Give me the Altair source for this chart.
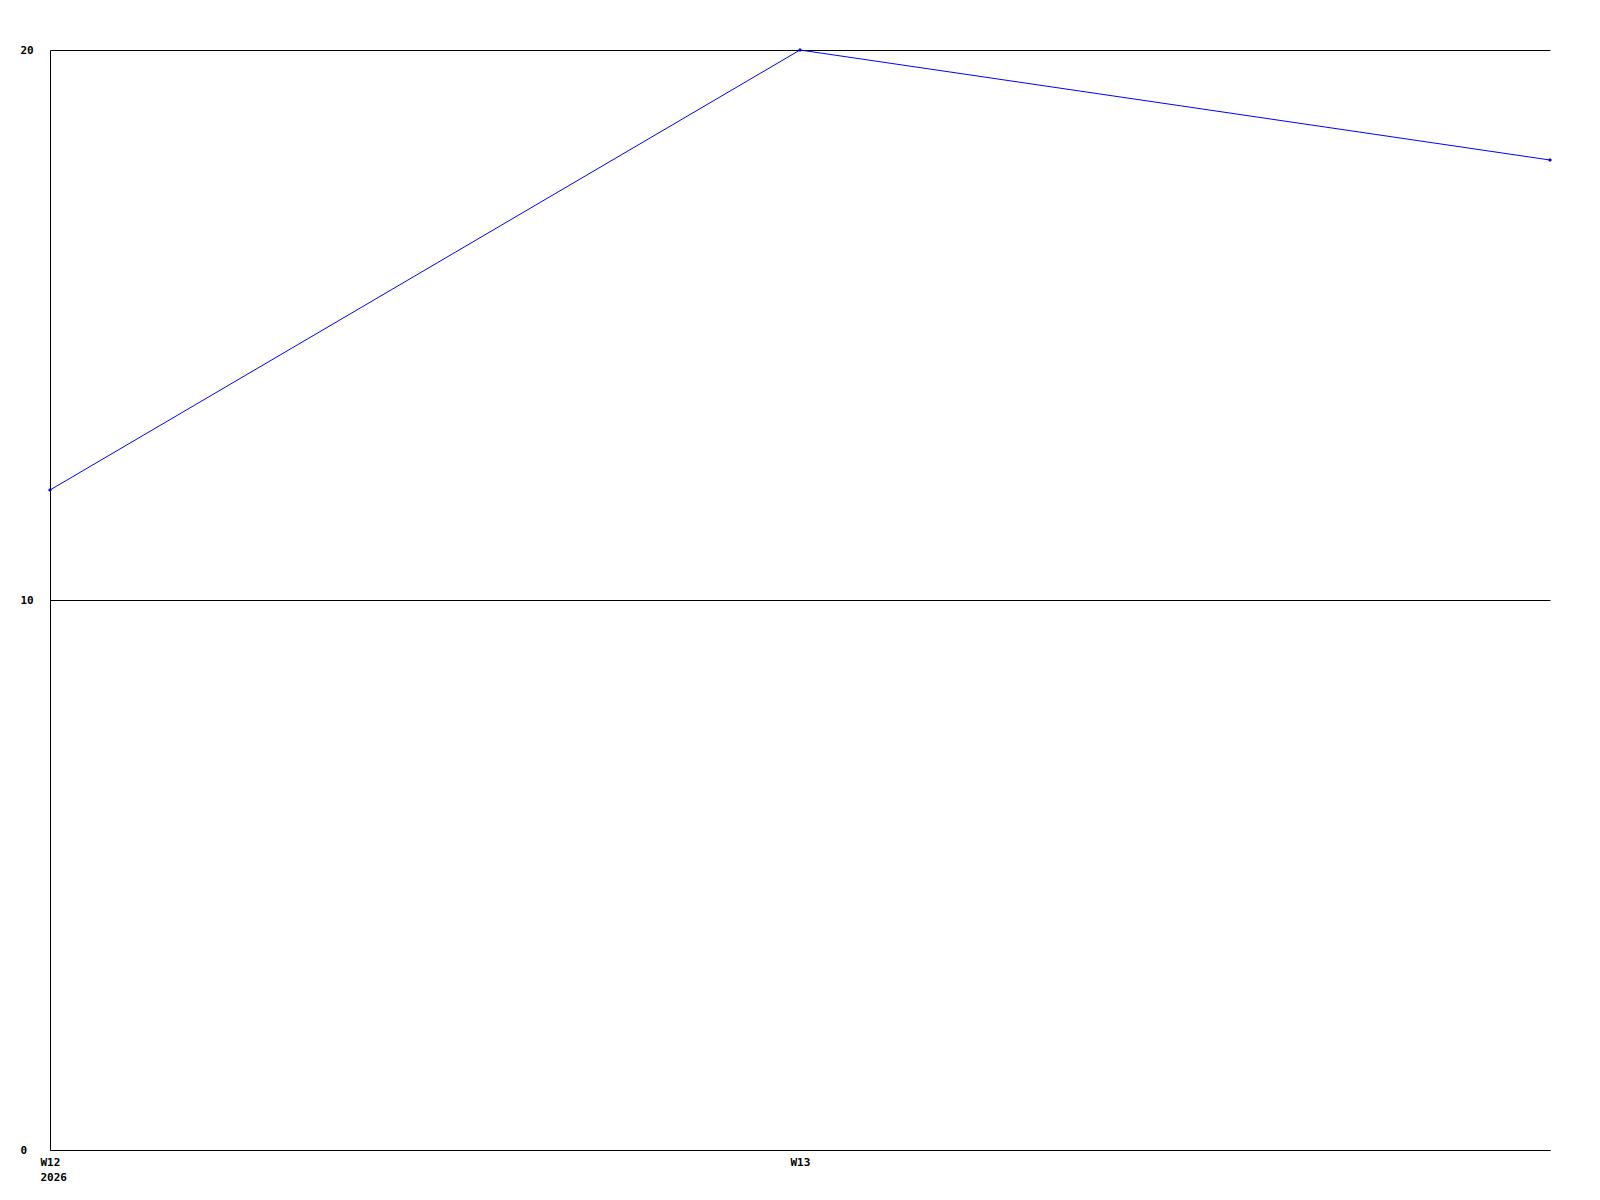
import altair as alt
import pandas as pd

weeks = [12, 13, 14]
week_labels = ["W12", "W13", "W14"]
values = [12, 20, 18]

df = pd.DataFrame({"week": weeks, "label": week_labels, "value": values})

FONT = "DejaVu Sans Mono"

xscale = alt.Scale(domain=[12, 14], nice=False, zero=False)
yscale = alt.Scale(domain=[0, 20], nice=False)

base = alt.Chart(df)

line = base.mark_line(color="#0000ff", strokeWidth=1, clip=False).encode(
    x=alt.X("week:Q", scale=xscale,
            axis=alt.Axis(values=[12, 13], title=None, grid=False, ticks=False,
                          domainColor="black", domainWidth=1,
                          labelAlign="left", labelOffset=-10, labelBaseline="top",
                          labelPadding=6, labelLineHeight=15,
                          labelExpr="datum.value == 12 ? ['W12', '2026'] : 'W' + datum.value",
                          labelFont=FONT, labelFontSize=11, labelFontWeight="bold",
                          labelColor="black")),
    y=alt.Y("value:Q", scale=yscale,
            axis=alt.Axis(values=[0, 10, 20], title=None, grid=True, gridColor="black",
                          gridOpacity=1, gridWidth=1, ticks=False,
                          domainColor="black", domainWidth=1,
                          labelAlign="left", labelPadding=30, labelBaseline="middle",
                          labelFont=FONT, labelFontSize=11, labelFontWeight="bold",
                          labelColor="black")),
)

pts = base.mark_point(shape="diamond", filled=True, color="#0000ff", size=16, opacity=1).encode(
    x=alt.X("week:Q", scale=xscale),
    y=alt.Y("value:Q", scale=yscale),
)

chart = (line + pts).properties(
    width=1500, height=1100,
    background="white",
    autosize=alt.AutoSizeParams(type="none"),
    padding={"left": 42, "top": 42, "right": 30, "bottom": 40},
).configure_view(stroke="transparent", strokeWidth=0)

chart.save("out.html", embed_options={"renderer": "svg", "actions": False})
